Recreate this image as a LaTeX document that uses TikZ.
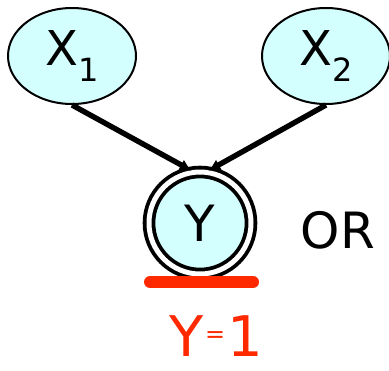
\documentclass[tikz,border=0pt]{standalone}
\usepackage{fontspec}
\setmainfont{DejaVu Sans}
\usepackage{tikz}
\usetikzlibrary{arrows.meta,shapes.geometric}
\definecolor{netcyan}{rgb}{0.83,1.00,1.00}
\definecolor{markred}{rgb}{1.00,0.16,0.00}
\tikzset{
  parentnode/.style={ellipse,draw,fill=netcyan,line width=1pt,minimum width=64pt,
    minimum height=48pt,inner sep=0pt,font=\fontsize{24}{24}\selectfont},
  childnode/.style={circle,draw,fill=netcyan,line width=1.9pt,double=white,
    double distance=2.5pt,minimum size=51pt,inner sep=0pt,font=\fontsize{25}{25}\selectfont},
  edge/.style={->,line width=2.7pt},
}
\newcommand{\subidx}[1]{\raisebox{-0.35em}{\fontsize{16}{16}\selectfont #1}}

\begin{document}
\begin{tikzpicture}[x=0.5pt,y=-0.5pt,>={Latex[length=6pt,width=6pt]}]
  \useasboundingbox (0,0) rectangle (389,370);
  % Eltern X1, X2
  \node[parentnode] (x1) at (72,56) {X\subidx{1}};
  \node[parentnode] (x2) at (326,56) {X\subidx{2}};
  % Kind Y (doppelter Kreis)
  \node[childnode] (y) at (200,223) {Y};
  \draw[edge] (x1.south) -- (y.99);
  \draw[edge] (x2.south) -- (y.81);
  \node[font=\fontsize{25}{25}\selectfont] (or) at (338,230) {OR};
  % rote Markierung
  \draw[markred,line width=6pt,line cap=round] (150,282) -- (253,282);
  \node[markred,inner sep=0pt,font=\fontsize{28}{28}\selectfont] (yval) at (216,336)
    {Y\kern1pt\raisebox{0.25em}{\fontsize{12}{12}\selectfont=}\kern1pt1};
\end{tikzpicture}
\end{document}
